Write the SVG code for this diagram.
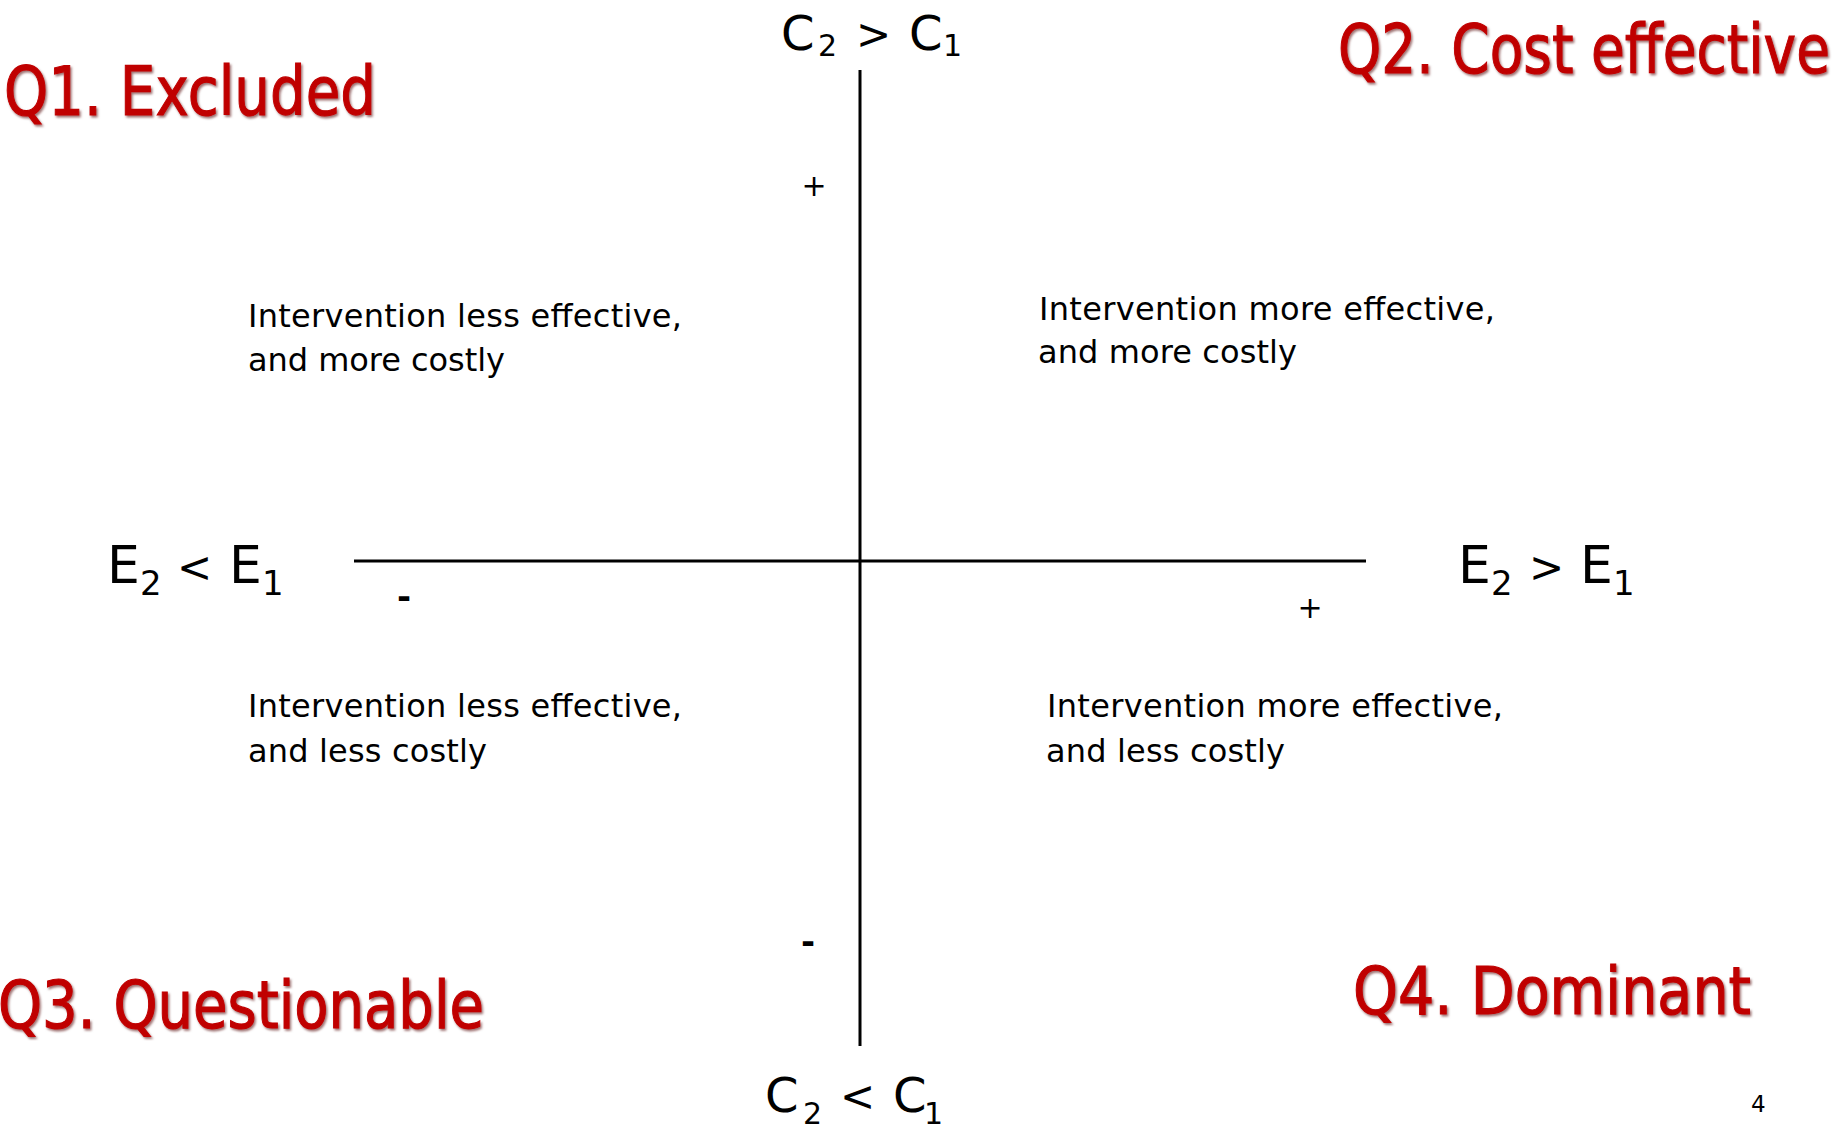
<svg xmlns="http://www.w3.org/2000/svg" width="1842" height="1130" viewBox="0 0 1842 1130">
  <defs>
    <filter id="shadow" x="-5%" y="-20%" width="110%" height="140%">
      <feDropShadow dx="1.5" dy="2" stdDeviation="0.8" flood-color="#500000" flood-opacity="0.55"/>
    </filter>
  </defs>
  <style>
    .q { font-family: "DejaVu Sans", "Noto Sans", sans-serif; fill: #C00000; stroke: #C00000; stroke-width: 1.1; filter: url(#shadow); }
    .desc { font-family: "DejaVu Sans", "Noto Sans", sans-serif; font-size: 32px; fill: #000; }
    .ax { font-family: "DejaVu Sans", "Noto Sans", sans-serif; fill: #000; }
    .sign { font-family: "DejaVu Sans", "Noto Sans", sans-serif; fill: #000; text-anchor: middle; }
    .axis { stroke: #000; stroke-width: 3; fill: none; }
  </style>
  <rect width="1842" height="1130" fill="#fff"/>

  <g id="connectors">
    <line class="axis" x1="860" y1="70" x2="860" y2="1046"/>
    <line class="axis" x1="354" y1="561" x2="1366" y2="561"/>
  </g>

  <g id="q1">
    <text class="q" x="4" y="115" font-size="68" textLength="372" lengthAdjust="spacingAndGlyphs">Q1. Excluded</text>
  </g>
  <g id="q2">
    <text class="q" x="1338" y="73" font-size="68" textLength="492" lengthAdjust="spacingAndGlyphs">Q2. Cost effective</text>
  </g>
  <g id="q3">
    <text class="q" x="-2" y="1028" font-size="65" textLength="486" lengthAdjust="spacingAndGlyphs">Q3. Questionable</text>
  </g>
  <g id="q4">
    <text class="q" x="1353" y="1014" font-size="65" textLength="398" lengthAdjust="spacingAndGlyphs">Q4. Dominant</text>
  </g>

  <g id="desc-top-left">
    <text class="desc" x="248" y="327" textLength="434" lengthAdjust="spacing">Intervention less effective,</text>
    <text class="desc" x="248" y="371" textLength="257" lengthAdjust="spacing">and more costly</text>
  </g>
  <g id="desc-top-right">
    <text class="desc" x="1039" y="320" textLength="456" lengthAdjust="spacing">Intervention more effective,</text>
    <text class="desc" x="1038" y="363" textLength="259" lengthAdjust="spacing">and more costly</text>
  </g>
  <g id="desc-bottom-left">
    <text class="desc" x="248" y="717" textLength="434" lengthAdjust="spacing">Intervention less effective,</text>
    <text class="desc" x="248" y="762" textLength="239" lengthAdjust="spacing">and less costly</text>
  </g>
  <g id="desc-bottom-right">
    <text class="desc" x="1047" y="717" textLength="456" lengthAdjust="spacing">Intervention more effective,</text>
    <text class="desc" x="1046" y="762" textLength="239" lengthAdjust="spacing">and less costly</text>
  </g>

  <g id="axis-top">
    <text class="ax" font-size="48" x="781" y="50">C<tspan font-size="30" x="818" y="56">2</tspan><tspan font-size="42" x="856" y="49">&gt;</tspan><tspan x="909" y="50">C</tspan><tspan font-size="30" x="943" y="56">1</tspan></text>
  </g>
  <g id="axis-bottom">
    <text class="ax" font-size="48" x="765" y="1112">C<tspan font-size="30" x="803" y="1124">2</tspan><tspan font-size="42" x="840" y="1111">&lt;</tspan><tspan x="893" y="1112">C</tspan><tspan font-size="30" x="924" y="1124">1</tspan></text>
  </g>
  <g id="axis-left">
    <text class="ax" font-size="52" x="107" y="583">E<tspan font-size="34" x="140" y="595">2</tspan><tspan font-size="42" x="177" y="582">&lt;</tspan><tspan x="229" y="583">E</tspan><tspan font-size="34" x="262" y="595">1</tspan></text>
  </g>
  <g id="axis-right">
    <text class="ax" font-size="52" x="1458" y="583">E<tspan font-size="34" x="1491" y="595">2</tspan><tspan font-size="42" x="1529" y="582">&gt;</tspan><tspan x="1580" y="583">E</tspan><tspan font-size="34" x="1613" y="595">1</tspan></text>
  </g>

  <g id="signs">
    <text class="sign" font-size="30" x="814" y="196">+</text>
    <text class="sign" font-size="30" x="1310" y="618">+</text>
    <text class="sign" font-size="34" font-weight="bold" x="404" y="608">-</text>
    <text class="sign" font-size="34" font-weight="bold" x="808" y="953">-</text>
  </g>

  <g id="page-number">
    <text class="ax" font-size="23" x="1751" y="1112">4</text>
  </g>
</svg>
